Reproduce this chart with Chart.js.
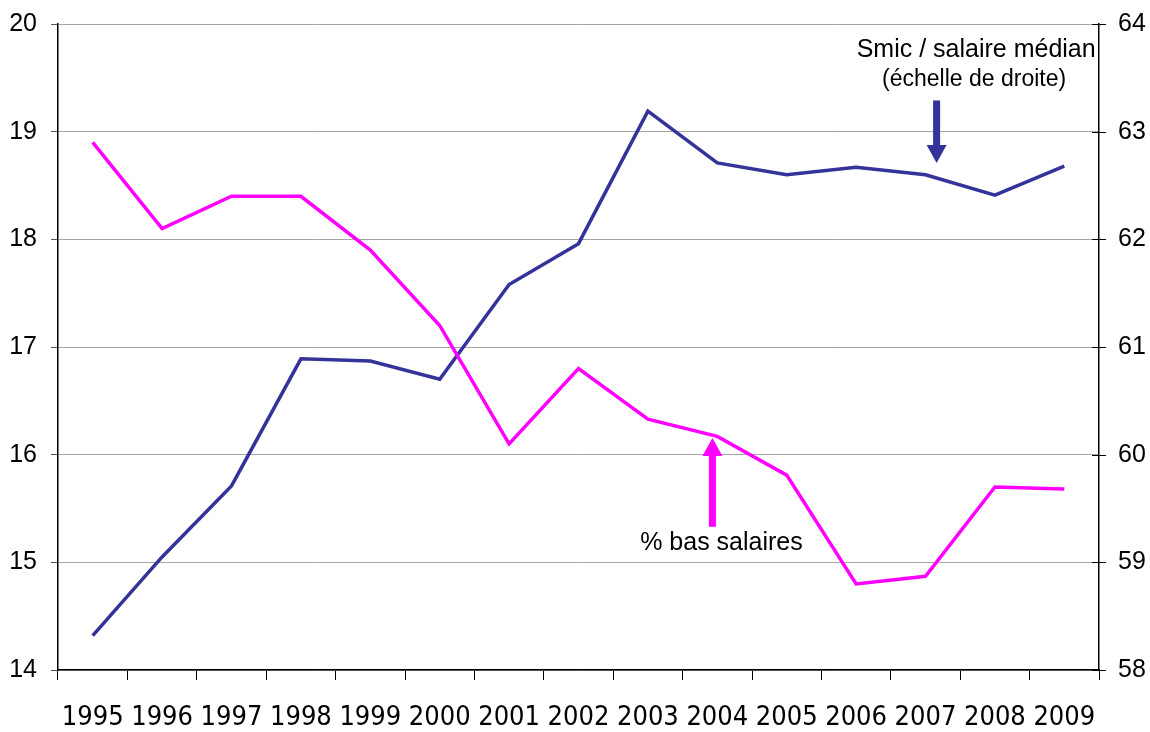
<!DOCTYPE html>
<html>
<head>
<meta charset="utf-8">
<script src="https://cdn.jsdelivr.net/npm/chart.js@4"></script>
<style>
  html, body { margin: 0; padding: 0; background: #fff; }
  #wrap { width: 1150px; height: 732px; }
</style>
</head>
<body>
<div id="wrap"><canvas id="chart" width="1150" height="732"></canvas></div>
<script>
const years = ["1995", "1996", "1997", "1998", "1999", "2000", "2001", "2002",
  "2003", "2004", "2005", "2006", "2007", "2008", "2009"];
// % bas salaires (left scale)
const lowWages = [18.9, 18.1, 18.4, 18.4, 17.9, 17.2, 16.1, 16.8,
  16.33, 16.17, 15.81, 14.8, 14.87, 15.7, 15.68];
// Smic / salaire médian (right scale)
const smicRatio = [58.32, 59.05, 59.71, 60.89, 60.87, 60.7, 61.58, 61.96,
  63.19, 62.71, 62.6, 62.67, 62.6, 62.41, 62.68];
const leftTicks = [14, 15, 16, 17, 18, 19, 20];
const rightTicks = [58, 59, 60, 61, 62, 63, 64];

const NAVY = "#333399", MAGENTA = "#ff00ff";
const FONT = "'Liberation Sans', Arial, sans-serif";

function arrow(ctx, x, y0, y1, color) {
  // shaft from y0, tip at y1
  const dir = y1 > y0 ? 1 : -1;
  ctx.save();
  ctx.strokeStyle = color;
  ctx.fillStyle = color;
  ctx.lineWidth = 7;
  ctx.beginPath();
  ctx.moveTo(x, y0);
  ctx.lineTo(x, y1 - dir * 14);
  ctx.stroke();
  ctx.beginPath();
  ctx.moveTo(x - 10, y1 - dir * 18);
  ctx.lineTo(x + 10, y1 - dir * 18);
  ctx.lineTo(x, y1);
  ctx.closePath();
  ctx.fill();
  ctx.restore();
}

const notes = {
  id: "notes",
  afterDatasetsDraw(chart) {
    const { ctx, scales } = chart;
    const x = scales.x, yl = scales.yL, yr = scales.yR;
    ctx.save();
    ctx.fillStyle = "#000";
    ctx.textAlign = "center";
    ctx.textBaseline = "middle";
    ctx.font = "25px " + FONT;
    ctx.fillText("Smic / salaire médian", x.getPixelForValue(12.73), yr.getPixelForValue(63.76));
    ctx.font = "23px " + FONT;
    ctx.fillText("(échelle de droite)", x.getPixelForValue(12.7), yr.getPixelForValue(63.48));
    ctx.font = "25px " + FONT;
    ctx.fillText("% bas salaires", x.getPixelForValue(9.06), yl.getPixelForValue(15.18));
    ctx.restore();
    arrow(ctx, x.getPixelForValue(12.16), yr.getPixelForValue(63.29), yr.getPixelForValue(62.71), NAVY);
    arrow(ctx, x.getPixelForValue(8.93), yl.getPixelForValue(15.33), yl.getPixelForValue(16.155), MAGENTA);
    // right axis cross ticks
    ctx.save();
    ctx.strokeStyle = "#000";
    ctx.lineWidth = 1;
    rightTicks.forEach(v => {
      const py = Math.round(yr.getPixelForValue(v)) + 0.5;
      ctx.beginPath();
      ctx.moveTo(chart.chartArea.right - 7, py);
      ctx.lineTo(chart.chartArea.right + 7, py);
      ctx.stroke();
    });
    ctx.restore();
  }
};

function fixY(width) {
  return s => { s.width = width; s.paddingTop = 0; s.paddingBottom = 0; };
}

new Chart(document.getElementById("chart"), {
  type: "line",
  data: {
    labels: years,
    datasets: [{
      label: "% bas salaires",
      data: lowWages,
      yAxisID: "yL",
      borderColor: MAGENTA,
      borderWidth: 3.5,
      pointRadius: 0,
      tension: 0
    }, {
      label: "Smic / salaire médian",
      data: smicRatio,
      yAxisID: "yR",
      borderColor: NAVY,
      borderWidth: 3.5,
      pointRadius: 0,
      tension: 0
    }]
  },
  options: {
    responsive: false,
    animation: false,
    layout: { padding: { top: 24, left: 0, right: 0, bottom: 0 } },
    plugins: { legend: { display: false }, tooltip: { enabled: false } },
    scales: {
      x: {
        offset: true,
        grid: { offset: true, drawOnChartArea: false, drawTicks: true, tickLength: 10, color: "#000" },
        border: { color: "#000", width: 1.5 },
        ticks: {
          color: "#000",
          padding: 22,
          maxRotation: 0,
          autoSkip: false,
          font: { family: "'Liberation Sans Narrow', 'Arial Narrow', 'DejaVu Sans Condensed', sans-serif", size: 27 }
        },
        afterFit(s) { s.height = 62; s.paddingLeft = 0; s.paddingRight = 0; }
      },
      yL: {
        position: "left",
        min: 14, max: 20,
        afterBuildTicks(s) { s.ticks = leftTicks.map(v => ({ value: v })); },
        grid: { color: "#a6a6a6", lineWidth: 1, tickLength: 7, tickColor: "#555" },
        border: { color: "#000", width: 1.5 },
        ticks: {
          color: "#000",
          padding: 14,
          font: { family: FONT, size: 25 }
        },
        afterFit: fixY(58)
      },
      yR: {
        position: "right",
        min: 58, max: 64,
        afterBuildTicks(s) { s.ticks = rightTicks.map(v => ({ value: v })); },
        grid: { drawOnChartArea: false, drawTicks: false },
        border: { color: "#000", width: 1.5 },
        ticks: {
          color: "#000",
          padding: 19,
          font: { family: FONT, size: 25 }
        },
        afterFit: fixY(51)
      }
    }
  },
  plugins: [notes]
});
</script>
</body>
</html>
